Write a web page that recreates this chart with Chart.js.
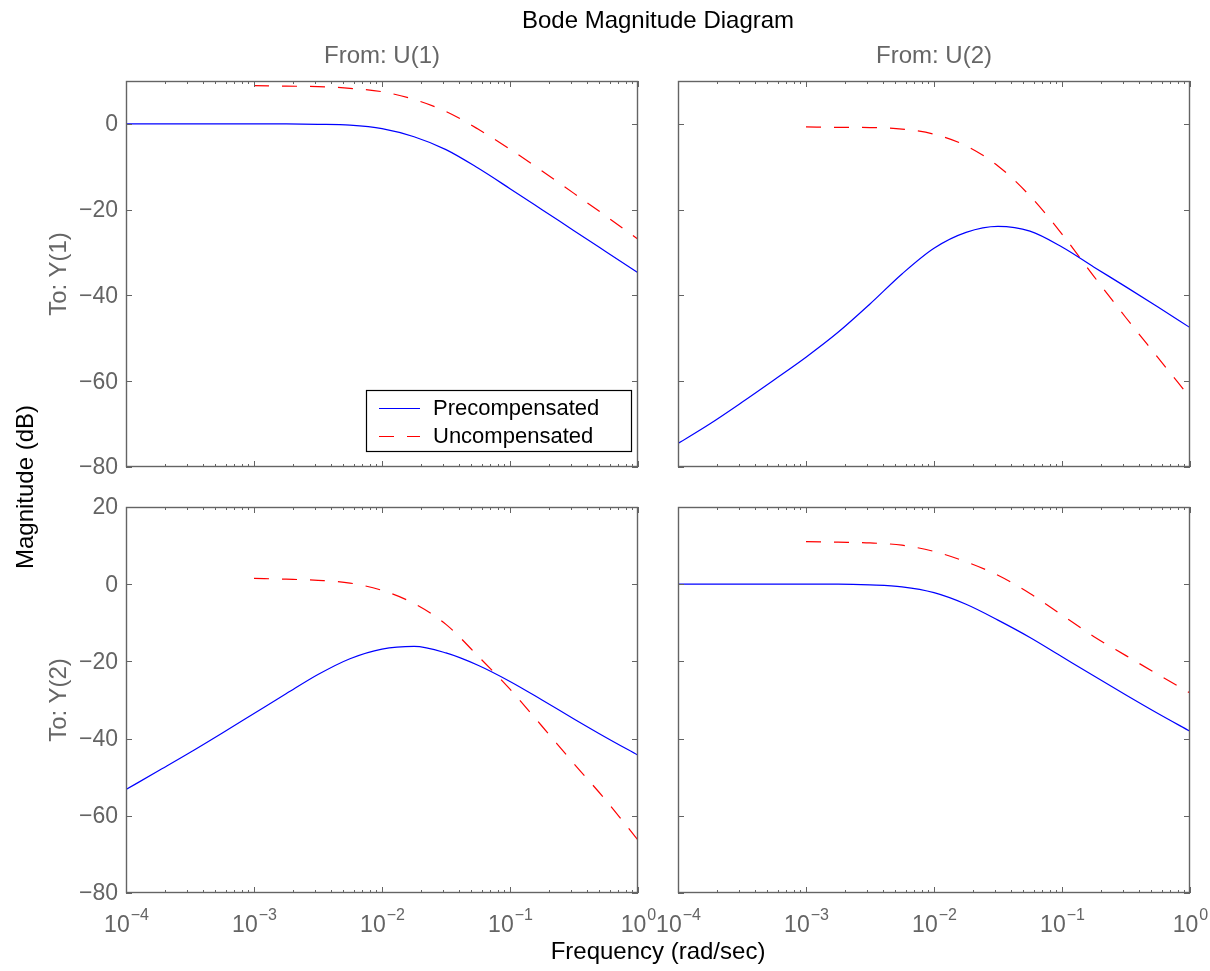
<!DOCTYPE html>
<html>
<head>
<meta charset="utf-8">
<script src="https://cdn.jsdelivr.net/npm/chart.js@4/dist/chart.umd.min.js"></script>
<style>
  html, body { margin:0; padding:0; background:#fff; }
  #wrap { position:relative; width:1210px; height:971px; background:#fff; overflow:hidden; font-family:"Liberation Sans", Arial, Helvetica, sans-serif; }
  #wrap canvas { position:absolute; left:0; top:0; }
  .lbl { position:absolute; white-space:nowrap; text-align:center; }
  .rot { transform:rotate(-90deg); transform-origin:50% 50%; }
</style>
</head>
<body>
<div id="wrap">
  <canvas id="c11" width="1210" height="971"></canvas>
  <canvas id="c12" width="1210" height="971"></canvas>
  <canvas id="c21" width="1210" height="971"></canvas>
  <canvas id="c22" width="1210" height="971"></canvas>
  <div class="lbl" style="left:358px;top:8px;width:600px;font-size:24px;line-height:24px;color:#000;">Bode Magnitude Diagram</div>
  <div class="lbl" style="left:182px;top:43px;width:400px;font-size:24px;line-height:24px;color:#666;">From: U(1)</div>
  <div class="lbl" style="left:734px;top:43px;width:400px;font-size:24px;line-height:24px;color:#666;">From: U(2)</div>
  <div class="lbl" style="left:358px;top:939px;width:600px;font-size:24px;line-height:24px;color:#000;">Frequency (rad/sec)</div>
  <div class="lbl rot" style="left:-175px;top:475px;width:400px;height:24px;font-size:24px;line-height:24px;color:#000;">Magnitude (dB)</div>
  <div class="lbl rot" style="left:-142px;top:262px;width:400px;height:24px;font-size:24px;line-height:24px;color:#666;">To: Y(1)</div>
  <div class="lbl rot" style="left:-142px;top:688px;width:400px;height:24px;font-size:24px;line-height:24px;color:#666;">To: Y(2)</div>
</div>
<script>
// ---------------- DATA ----------------
// frequencies (rad/sec), quarter-decade points
const freqAll = [0.0001, 0.000178, 0.000316, 0.000562, 0.001, 0.00178, 0.00316, 0.00562,
                 0.01, 0.0178, 0.0316, 0.0562, 0.1, 0.178, 0.316, 0.562, 1];
const freqUnc = [0.001, 0.00178, 0.00316, 0.00562, 0.01, 0.0178, 0.0316, 0.0562,
                 0.1, 0.178, 0.316, 0.562, 1];

// From U(1) to Y(1)
const pre11 = [0, 0, 0, 0, 0, -0.02, -0.1, -0.3, -1.1, -3.0, -6.0, -10.3, -15.1, -20.0, -24.9, -29.8, -34.7];
const unc11 = [8.9, 8.8, 8.7, 8.3, 7.5, 5.7, 2.9, -1.2, -5.9, -11.0, -16.2, -21.5, -26.9];
// From U(2) to Y(1)
const pre12 = [-74.5, -69.9, -64.9, -59.7, -54.4, -48.6, -42.0, -35.0, -29.0, -25.3, -23.9, -25.0, -28.7, -33.4, -38.0, -42.7, -47.5];
const unc12 = [-0.7, -0.8, -0.85, -1.2, -2.4, -5.1, -9.8, -16.8, -25.7, -35.6, -45.2, -54.5, -63.8];
// From U(1) to Y(2)
const pre21 = [-53.2, -48.4, -43.6, -38.6, -33.5, -28.4, -23.4, -19.3, -16.8, -16.1, -17.8, -21.0, -25.2, -30.0, -34.9, -39.7, -44.3];
const unc21 = [1.5, 1.3, 1.0, 0.3, -1.6, -5.0, -10.4, -18.6, -27.2, -36.8, -46.5, -56.0, -66.3];
// From U(2) to Y(2)
const pre22 = [0, 0, 0, 0, 0, 0, -0.2, -0.7, -2.2, -5.2, -9.3, -13.8, -18.8, -23.8, -28.7, -33.5, -38.1];
const unc22 = [11.05, 10.9, 10.7, 10.1, 8.5, 5.8, 2.3, -2.4, -8.0, -13.6, -18.5, -23.4, -28.2];

// tick values / labels
const xMajor = [0.0001, 0.001, 0.01, 0.1, 1];
const xExpLabels = ['\u22124', '\u22123', '\u22122', '\u22121', '0'];
const xMinorMult = [2, 3, 4, 5, 6, 7, 8, 9];
const yTicksTop = [0, -20, -40, -60, -80];
const yLabelsTop = ['0', '\u221220', '\u221240', '\u221260', '\u221280'];
const yTicksBot = [20, 0, -20, -40, -60, -80];
const yLabelsBot = ['20', '0', '\u221220', '\u221240', '\u221260', '\u221280'];
const seriesNames = ['Precompensated', 'Uncompensated'];

// ---------------- STYLE ----------------
const AXIS = '#646464';
const TXT = '#646464';
const FONT = '"Liberation Sans", Arial, Helvetica, sans-serif';

const axesPlugin = {
  id: 'matlabAxes',
  afterDatasetsDraw(chart, args, o) {
    const { ctx, chartArea: a } = chart;
    const xs = chart.scales.x, ys = chart.scales.y;
    ctx.save();
    ctx.strokeStyle = AXIS;
    ctx.lineWidth = 1.4;
    const L = Math.round(a.left), R = Math.round(a.right), T = Math.round(a.top), B = Math.round(a.bottom);
    ctx.strokeRect(L + 0.5, T + 0.5, R - L - 1, B - T - 1);
    ctx.lineWidth = 1;
    ctx.beginPath();
    // y ticks
    o.yTicks.forEach(v => {
      const p = Math.round(ys.getPixelForValue(v)) + 0.5;
      ctx.moveTo(L, p); ctx.lineTo(L + 6, p);
      ctx.moveTo(R, p); ctx.lineTo(R - 6, p);
    });
    // x ticks
    xMajor.forEach((v, i) => {
      const p = Math.round(xs.getPixelForValue(v)) + 0.5;
      ctx.moveTo(p, B); ctx.lineTo(p, B - 6);
      ctx.moveTo(p, T); ctx.lineTo(p, T + 6);
      if (i < xMajor.length - 1) {
        xMinorMult.forEach(m => {
          const q = Math.round(xs.getPixelForValue(v * m)) + 0.5;
          ctx.moveTo(q, B); ctx.lineTo(q, B - 3);
          ctx.moveTo(q, T); ctx.lineTo(q, T + 3);
        });
      }
    });
    ctx.stroke();

    ctx.fillStyle = TXT;
    if (o.yLabels) {
      ctx.font = '23px ' + FONT;
      ctx.textAlign = 'right';
      ctx.textBaseline = 'middle';
      o.yTicks.forEach((v, i) => {
        ctx.fillText(o.yLabels[i], L - 8, ys.getPixelForValue(v) + 1);
      });
    }
    if (o.xLabels) {
      xMajor.forEach((v, i) => {
        const p = xs.getPixelForValue(v);
        ctx.font = '23px ' + FONT;
        const w1 = ctx.measureText('10').width;
        ctx.font = '16px ' + FONT;
        const w2 = ctx.measureText(xExpLabels[i]).width;
        const start = p - (w1 + w2) / 2;
        ctx.textAlign = 'left';
        ctx.textBaseline = 'alphabetic';
        ctx.font = '23px ' + FONT;
        ctx.fillText('10', start, B + 39);
        ctx.font = '16px ' + FONT;
        ctx.fillText(xExpLabels[i], start + w1 + 1, B + 27);
      });
    }
    if (o.legend) {
      const bx = 366, by = 390, bw = 265, bh = 61;
      ctx.fillStyle = '#fff';
      ctx.fillRect(bx, by, bw, bh);
      ctx.strokeStyle = '#000';
      ctx.lineWidth = 1.2;
      ctx.strokeRect(bx + 0.5, by + 0.5, bw, bh);
      const rows = [408, 436];
      chart.data.datasets.forEach((ds, i) => {
        ctx.strokeStyle = ds.borderColor;
        ctx.lineWidth = 1.2;
        ctx.setLineDash(ds.borderDash || []);
        ctx.beginPath();
        ctx.moveTo(379, rows[i] + 0.5); ctx.lineTo(420, rows[i] + 0.5);
        ctx.stroke();
        ctx.setLineDash([]);
        ctx.fillStyle = '#000';
        ctx.font = '22px ' + FONT;
        ctx.textAlign = 'left';
        ctx.textBaseline = 'middle';
        ctx.fillText(ds.label, 433, rows[i] + 1);
      });
    }
    ctx.restore();
  }
};

function pts(xsArr, ysArr) { return xsArr.map((x, i) => ({ x: x, y: ysArr[i] })); }

function makeChart(id, pre, unc, pad, yMax, opts) {
  new Chart(document.getElementById(id), {
    type: 'line',
    data: {
      datasets: [
        { label: seriesNames[0], data: pts(freqAll, pre), borderColor: '#0000ff', borderWidth: 1.2,
          pointRadius: 0, fill: false, cubicInterpolationMode: 'monotone' },
        { label: seriesNames[1], data: pts(freqUnc, unc), borderColor: '#ff0000', borderWidth: 1.2,
          borderDash: [15, 13], pointRadius: 0, fill: false, cubicInterpolationMode: 'monotone' }
      ]
    },
    options: {
      responsive: false,
      animation: false,
      devicePixelRatio: 1,
      events: [],
      layout: { padding: pad },
      scales: {
        x: { type: 'logarithmic', min: 0.0001, max: 1, display: false },
        y: { type: 'linear', min: -80, max: yMax, display: false }
      },
      plugins: {
        legend: { display: false },
        tooltip: { enabled: false },
        matlabAxes: opts
      }
    },
    plugins: [axesPlugin]
  });
}

makeChart('c11', pre11, unc11, { left: 126, top: 81, right: 572, bottom: 504 }, 10,
  { yTicks: yTicksTop, yLabels: yLabelsTop, xLabels: false, legend: true });
makeChart('c12', pre12, unc12, { left: 678, top: 81, right: 20, bottom: 504 }, 10,
  { yTicks: yTicksTop, yLabels: null, xLabels: false, legend: false });
makeChart('c21', pre21, unc21, { left: 126, top: 507, right: 572, bottom: 78 }, 20,
  { yTicks: yTicksBot, yLabels: yLabelsBot, xLabels: true, legend: false });
makeChart('c22', pre22, unc22, { left: 678, top: 507, right: 20, bottom: 78 }, 20,
  { yTicks: yTicksBot, yLabels: null, xLabels: true, legend: false });
</script>
</body>
</html>
